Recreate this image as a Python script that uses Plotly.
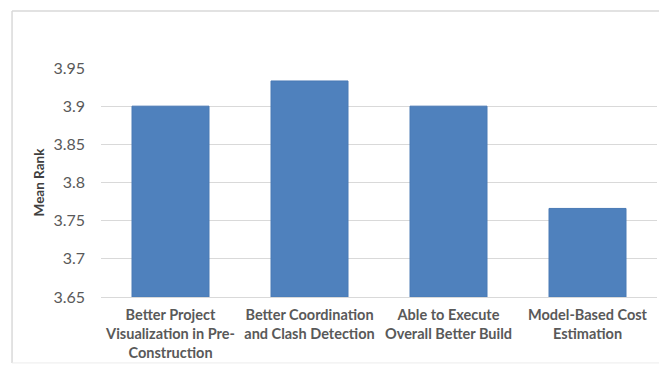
import plotly.graph_objects as go

categories = [
    "Better Project<br>Visualization in Pre-<br>Construction",
    "Better Coordination<br>and Clash Detection",
    "Able to Execute<br>Overall Better Build",
    "Model-Based Cost<br>Estimation",
]
mean_rank = [3.9, 3.933, 3.9, 3.766]
axis_min = 3.65
axis_max = 3.95
y_ticks = [3.65, 3.7, 3.75, 3.8, 3.85, 3.9, 3.95]
y_tick_text = ["3.65", "3.7", "3.75", "3.8", "3.85", "3.9", "3.95"]

fig = go.Figure(
    go.Bar(
        x=categories,
        y=[v - axis_min for v in mean_rank],
        base=axis_min,
        marker=dict(color="#4f81bd", line=dict(color="#4a7ab5", width=1)),
        width=0.554,
    )
)

font_family = "Lato, 'Open Sans', sans-serif"

fig.update_layout(
    width=659,
    height=365,
    margin=dict(l=101, r=2, t=68, b=68),
    paper_bgcolor="white",
    plot_bgcolor="white",
    showlegend=False,
    font=dict(family=font_family, color="#595959"),
    xaxis=dict(
        showline=True,
        linecolor="#d9d9d9",
        linewidth=1,
        showgrid=False,
        ticks="",
        tickfont=dict(size=14.5, color="#595959", family=font_family, weight="bold"),
        ticklabelstandoff=5,
    ),
    yaxis=dict(
        range=[axis_min, axis_max],
        tickvals=y_ticks,
        ticktext=y_tick_text,
        showgrid=True,
        gridcolor="#d9d9d9",
        gridwidth=1,
        zeroline=False,
        showline=False,
        ticks="",
        tickfont=dict(size=16, color="#595959", family=font_family),
        ticklabelstandoff=15,
        title=dict(
            text="<b>Mean Rank</b>",
            font=dict(size=13.5, color="#404040", family=font_family),
            standoff=5,
        ),
    ),
    shapes=[
        dict(type="line", xref="paper", yref="paper",
             x0=-0.160, x1=1.01, y0=1.249, y1=1.249,
             line=dict(color="#d9d9d9", width=1.5)),
        dict(type="line", xref="paper", yref="paper",
             x0=-0.160, x1=-0.160, y0=1.249, y1=-0.288,
             line=dict(color="#d9d9d9", width=1.5)),
        dict(type="line", xref="paper", yref="paper",
             x0=-0.160, x1=1.01, y0=-0.288, y1=-0.288,
             line=dict(color="#ececec", width=1)),
    ],
)

fig.write_html("out.html")
